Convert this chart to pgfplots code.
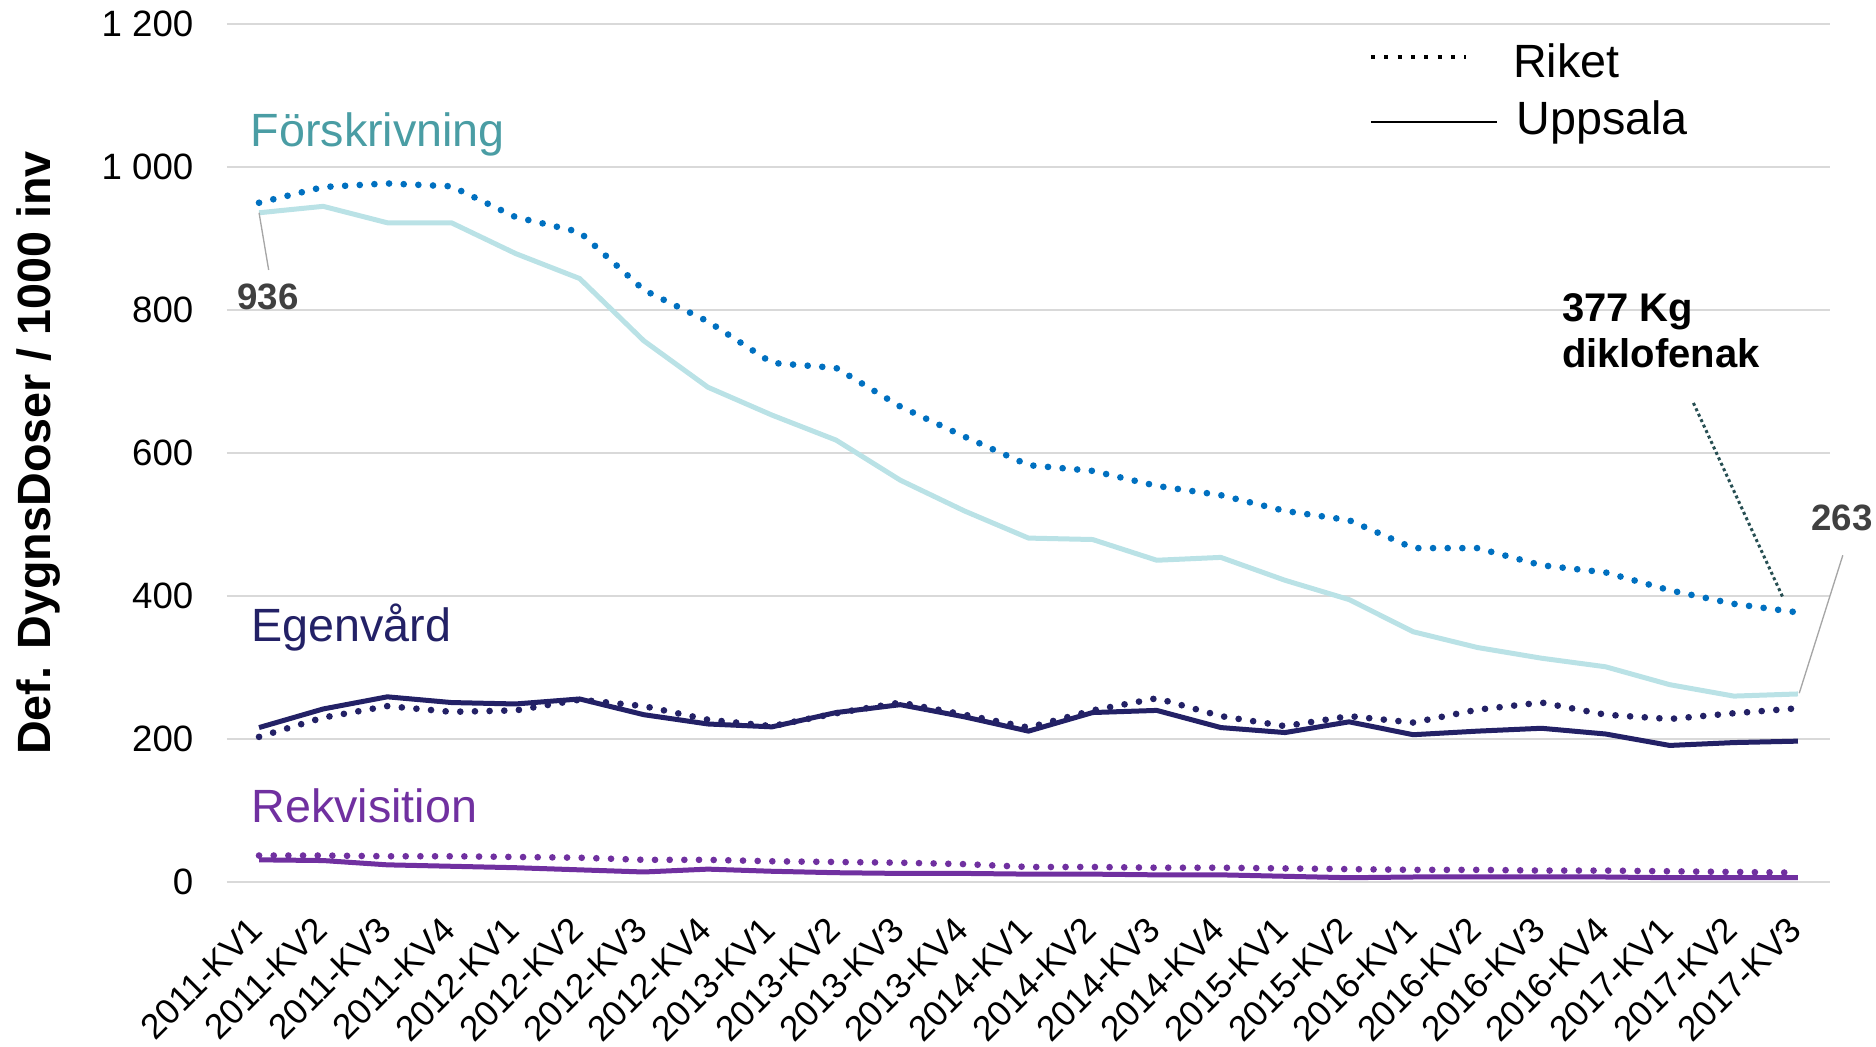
\documentclass[border=0pt]{standalone}
\usepackage{fontspec}
\setmainfont{Liberation Sans}
\usepackage{pgfplots}
\usepackage{pgfplotstable}
\pgfplotsset{compat=1.18}

\definecolor{cyanL}{RGB}{186,226,230}
\definecolor{blueR}{RGB}{0,112,192}
\definecolor{tealT}{RGB}{74,157,164}
\definecolor{navy}{RGB}{35,33,102}
\definecolor{purp}{RGB}{112,48,160}
\definecolor{annGray}{RGB}{64,64,64}
\definecolor{leadGray}{RGB}{166,166,166}
\definecolor{gridG}{RGB}{217,217,217}
\definecolor{slate}{RGB}{38,78,82}

\pgfplotstableread{
x fu fr eu er ru rr
0 936 950 216 203 31 37
1 945 972 242 230 30 37
2 922 977 259 246 24 36
3 922 973 251 238 22 36
4 879 930 249 240 20 35
5 844 909 256 255 17 34
6 757 828 234 246 14 31
7 692 784 221 227 18 31
8 653 726 217 218 15 29
9 618 719 237 236 13 28
10 562 665 248 251 12 27
11 519 623 231 234 12 25
12 481 583 211 216 11 21
13 479 575 237 240 11 21
14 450 554 240 257 10 20
15 454 541 216 232 10 20
16 422 519 209 218 8 19
17 395 506 224 232 6 18
18 350 467 206 223 7 17
19 328 467 211 241 7 17
20 313 443 215 251 7 16
21 301 433 207 234 7 16
22 276 408 191 228 6 15
23 260 389 195 236 6 14
24 263 377 197 243 6 13
}\data

\begin{document}
\begin{tikzpicture}
\path[use as bounding box] (-68.1pt,-49.2pt) rectangle (494.7pt,264.6pt);
\begin{axis}[
  at={(0,0)}, anchor=south west,
  scale only axis, width=480.9pt, height=257.4pt,
  xmin=-0.5, xmax=24.5, ymin=0, ymax=1200,
  clip=false,
  axis line style={draw=none},
  major tick length=0pt,
  ymajorgrids, major grid style={gridG, line width=0.6pt},
  ytick={0,200,400,600,800,1000,1200},
  yticklabels={0,200,400,600,800,{1 000},{1 200}},
  yticklabel style={font=\fontsize{11}{13}\selectfont, anchor=east, inner sep=0pt, xshift=-9.9pt},
  xtick={0,...,24},
  xticklabels={2011-KV1,2011-KV2,2011-KV3,2011-KV4,2012-KV1,2012-KV2,2012-KV3,2012-KV4,2013-KV1,2013-KV2,2013-KV3,2013-KV4,2014-KV1,2014-KV2,2014-KV3,2014-KV4,2015-KV1,2015-KV2,2016-KV1,2016-KV2,2016-KV3,2016-KV4,2017-KV1,2017-KV2,2017-KV3},
  xticklabel style={font=\fontsize{10.6}{13}\selectfont, xshift=-3.5pt, yshift=-9.6pt, rotate=45, anchor=north east, inner sep=0pt},
]
\addplot[cyanL, line width=1.5pt, line join=round] table[x=x,y=fu] {\data};
\addplot[blueR, line width=2pt, line cap=round, dash pattern=on 0pt off 4.4pt] table[x=x,y=fr] {\data};
\addplot[navy, line width=2pt, line cap=round, dash pattern=on 0pt off 4.4pt] table[x=x,y=er] {\data};
\addplot[navy, line width=1.5pt, line join=round] table[x=x,y=eu] {\data};
\addplot[purp, line width=2pt, line cap=round, dash pattern=on 0pt off 4.4pt] table[x=x,y=rr] {\data};
\addplot[purp, line width=1.5pt, line join=round] table[x=x,y=ru] {\data};

% series labels
\node[anchor=base west, inner sep=0pt, text=tealT, font=\fontsize{14}{16}\selectfont] at (axis cs:-0.14,1028) {Förskrivning};
\node[anchor=base west, inner sep=0pt, text=navy, font=\fontsize{14}{16}\selectfont] at (axis cs:-0.13,336) {Egenvård};
\node[anchor=base west, inner sep=0pt, text=purp, font=\fontsize{14}{16}\selectfont] at (axis cs:-0.13,83) {Rekvisition};

% annotations
\draw[leadGray, line width=0.4pt] (axis cs:0,936) -- (axis cs:0.15,856);
\node[inner sep=0pt, text=annGray, font=\bfseries\fontsize{11}{13}\selectfont] at (axis cs:0.14,818) {936};
\draw[leadGray, line width=0.4pt] (axis cs:24.02,264) -- (axis cs:24.7,457);
\node[inner sep=0pt, text=annGray, font=\bfseries\fontsize{11}{13}\selectfont] at (axis cs:24.69,509) {263};
\draw[slate, line width=0.9pt, dash pattern=on 0.9pt off 0.9pt] (axis cs:22.37,670) -- (axis cs:23.77,397);
\node[anchor=west, inner sep=0pt, align=left, font=\bfseries\fontsize{12}{14}\selectfont] at (axis cs:20.31,771) {377 Kg\\diklofenak};

% legend
\draw[black, line width=1.2pt, dash pattern=on 1.2pt off 2.8pt] (axis cs:17.34,1154) -- (axis cs:18.83,1154);
\node[anchor=base west, inner sep=0pt, font=\fontsize{14}{16}\selectfont] at (axis cs:19.55,1124.5) {Riket};
\draw[black, line width=0.6pt] (axis cs:17.34,1063) -- (axis cs:19.30,1063);
\node[anchor=base west, inner sep=0pt, font=\fontsize{14}{16}\selectfont] at (axis cs:19.6,1045) {Uppsala};
\end{axis}
\node[rotate=90, font=\bfseries\fontsize{14}{16}\selectfont] at (-56.4pt,128.7pt) {Def. DygnsDoser / 1000 inv};
\end{tikzpicture}
\end{document}
